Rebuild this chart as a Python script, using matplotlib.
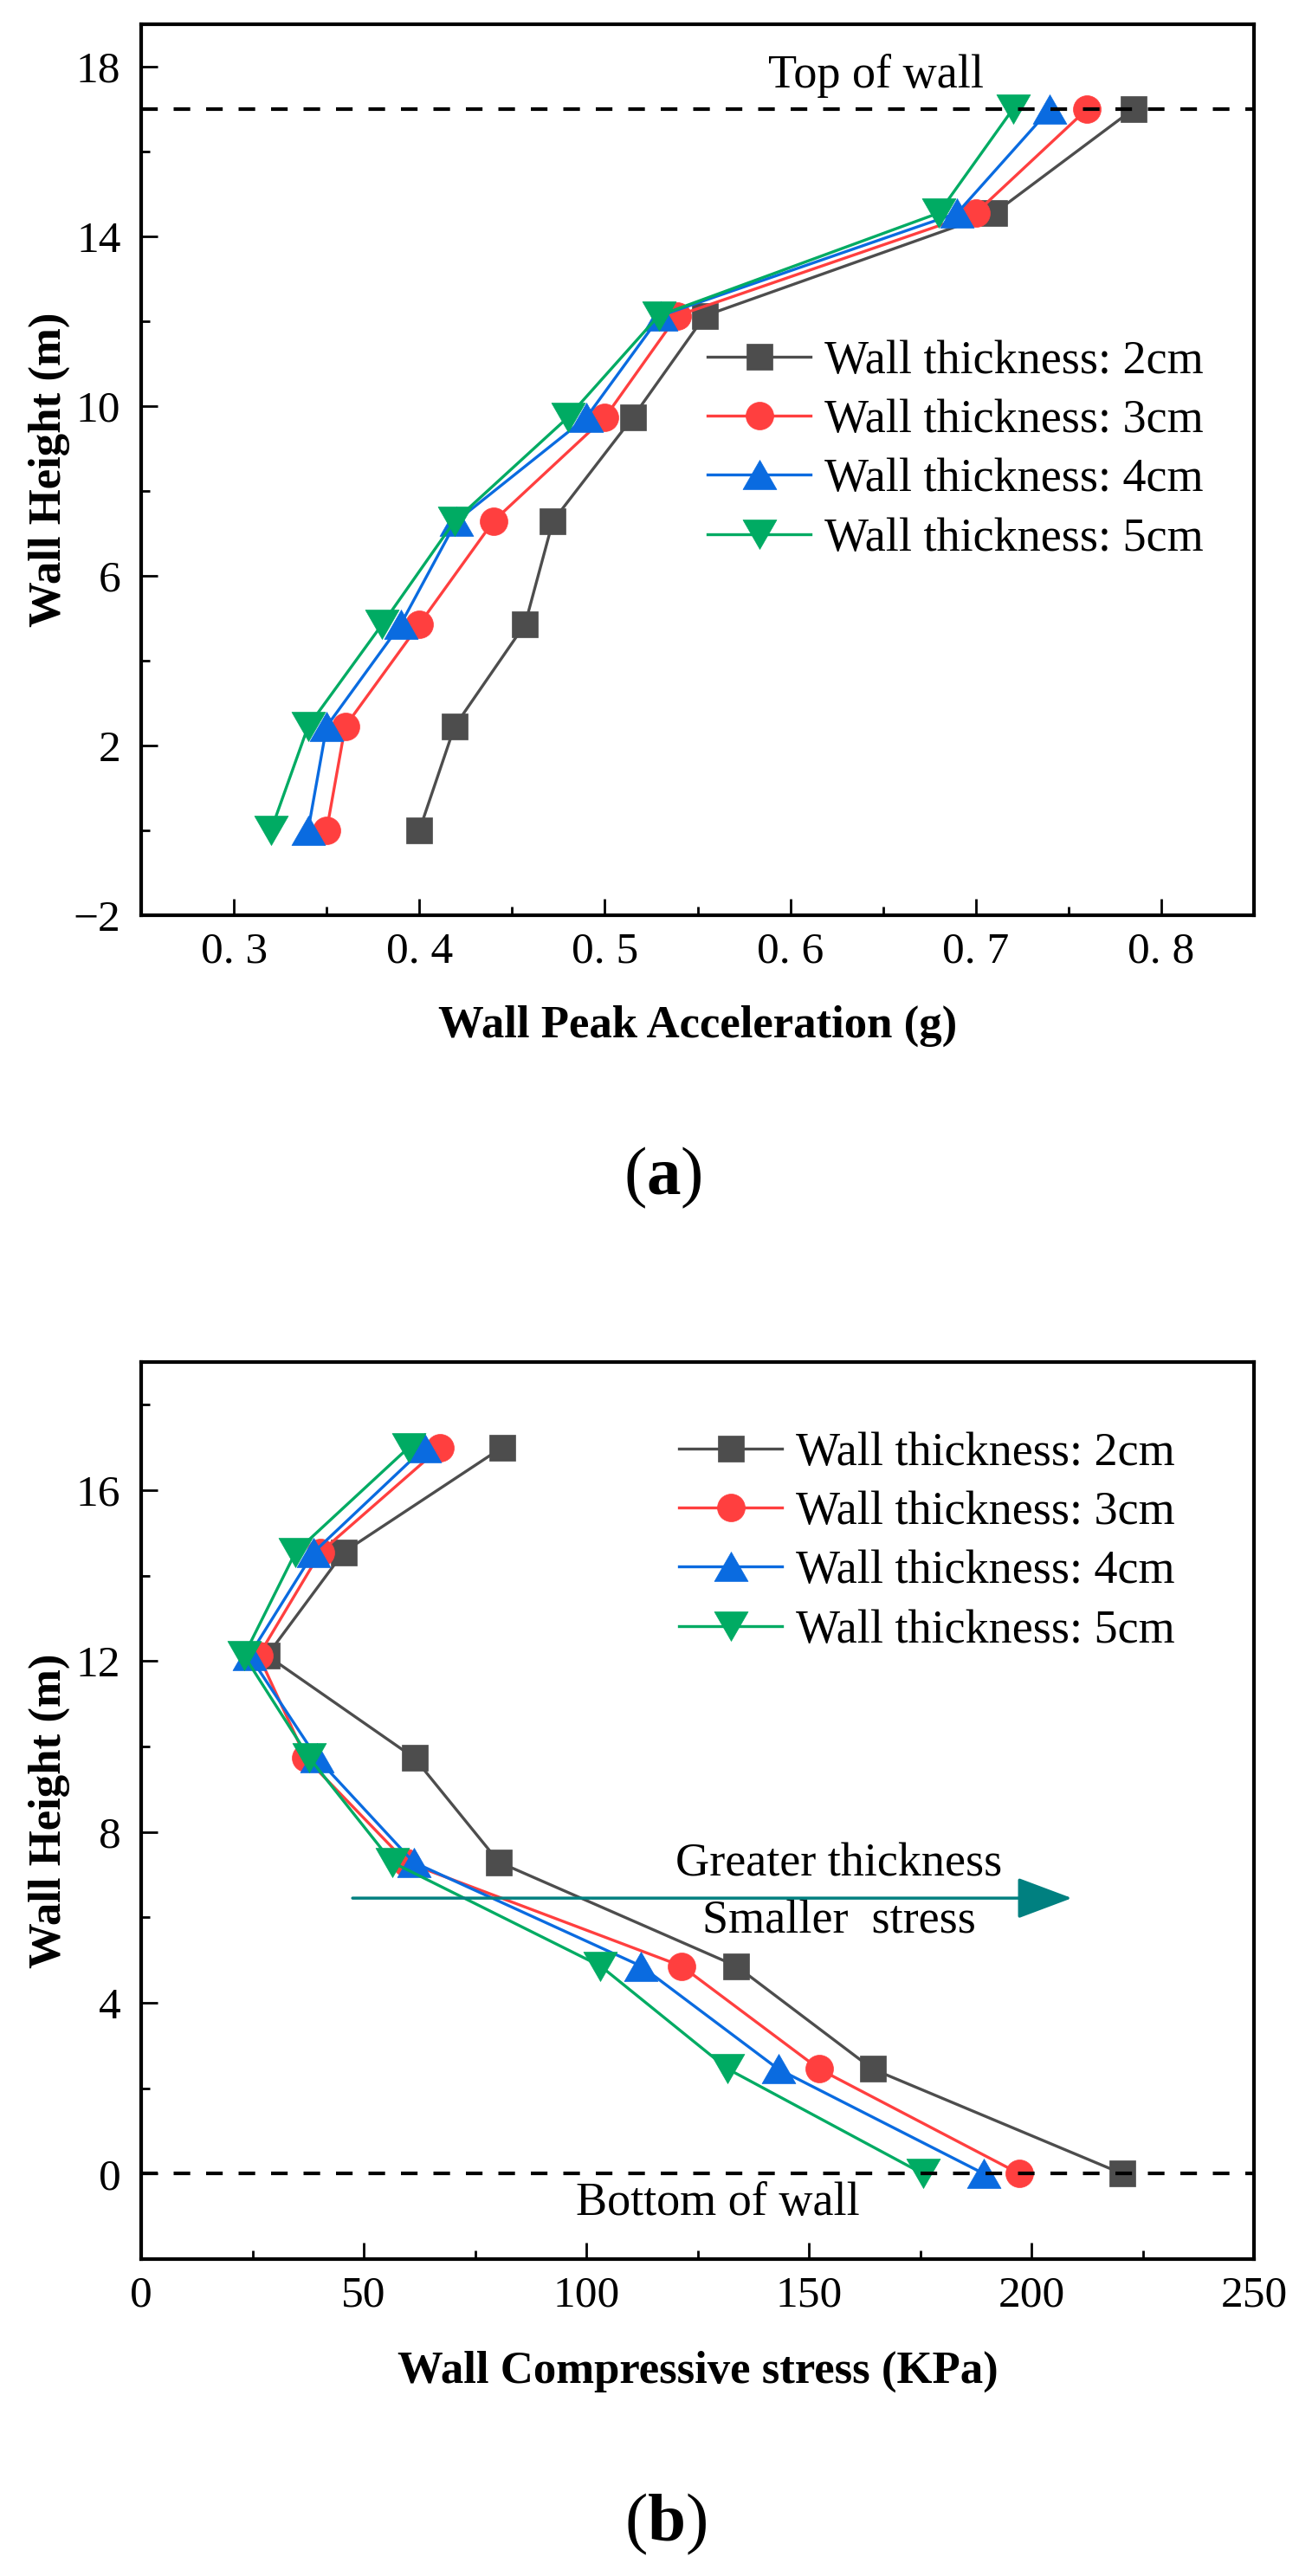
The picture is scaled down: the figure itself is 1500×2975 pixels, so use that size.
import matplotlib
matplotlib.use('Agg')
import matplotlib.pyplot as plt
from matplotlib.ticker import MultipleLocator, FixedLocator, FixedFormatter

plt.rcParams['font.family'] = ['Liberation Serif', 'DejaVu Serif']
plt.rcParams['mathtext.fontset'] = 'custom'
plt.rcParams['mathtext.rm'] = 'Liberation Serif'
plt.rcParams['mathtext.bf'] = 'Liberation Serif:bold'

# ---------------- data ----------------
labels = ['Wall thickness: 2cm', 'Wall thickness: 3cm',
          'Wall thickness: 4cm', 'Wall thickness: 5cm']

height = [17, 14.55, 12.13, 9.73, 7.29, 4.86, 2.45, 0]

acc_2cm = [0.785, 0.710, 0.554, 0.515, 0.472, 0.457, 0.419, 0.400]
acc_3cm = [0.760, 0.700, 0.539, 0.500, 0.440, 0.400, 0.360, 0.350]
acc_4cm = [0.740, 0.690, 0.530, 0.490, 0.420, 0.390, 0.350, 0.340]
acc_5cm = [0.720, 0.680, 0.529, 0.480, 0.419, 0.380, 0.340, 0.320]

stress_2cm = [81.1, 45.5, 28.3, 61.4, 80.4, 133.7, 164.3, 220.4]
stress_3cm = [67.2, 40.3, 26.4, 37.0, 59.6, 121.4, 152.3, 197.3]
stress_4cm = [63.7, 38.8, 24.3, 39.5, 61.2, 112.3, 143.1, 189.3]
stress_5cm = [60.1, 34.7, 23.1, 37.8, 56.4, 103.2, 131.8, 175.6]

xticks_a = [0.3, 0.4, 0.5, 0.6, 0.7, 0.8]
xticklabels_a = ['0. 3', '0. 4', '0. 5', '0. 6', '0. 7', '0. 8']
yticks_a = [-2, 2, 6, 10, 14, 18]
xticks_b = [0, 50, 100, 150, 200, 250]
yticks_b = [0, 4, 8, 12, 16]

# ---------------- style ----------------
colors = ['#4D4D4D', '#FF3F3F', '#0A6BE0', '#00AB63']
tri_up = [(0, 0.87), (-1, -0.87), (1, -0.87), (0, 0.87)]
tri_dn = [(0, -0.87), (-1, 0.87), (1, 0.87), (0, -0.87)]
markers = ['s', 'o', tri_up, tri_dn]
msizes = [21, 23, 28, 28]

W, H = 1500, 2975
fig = plt.figure(figsize=(15, 29.75), dpi=100)


def rect(l, t, r, b):
    return [l / W, 1 - b / H, (r - l) / W, (b - t) / H]


axA = fig.add_axes(rect(163, 28, 1448, 1057))
axB = fig.add_axes(rect(163, 1573, 1448, 2609))


def style(ax):
    for s in ax.spines.values():
        s.set_linewidth(3)
    ax.tick_params(which='both', direction='in', top=False, right=False,
                   labelsize=37, width=2)
    ax.tick_params(which='major', length=14)
    ax.tick_params(which='minor', length=7)
    ax.tick_params(axis='x', which='both', pad=14)
    ax.tick_params(axis='y', which='both', pad=17)


def plot_series(ax, xs_list):
    for xs, c, m, ms, lab in zip(xs_list, colors, markers, msizes, labels):
        ax.plot(xs, height, color=c, lw=2.4, marker=m, ms=ms,
                mfc=c, mec=c, mew=0.5, label=lab)


legend_kw = dict(bbox_transform=fig.transFigure, frameon=False, fontsize=39,
                 borderpad=0, borderaxespad=0, handlelength=2.2,
                 handletextpad=0.3, labelspacing=0.33, loc='upper left')

# ---------------- panel (a) ----------------
style(axA)
plot_series(axA, [acc_2cm, acc_3cm, acc_4cm, acc_5cm])
axA.axhline(17, color='black', lw=3, dashes=(4.6, 4.4), zorder=10)
axA.set_xlim(0.25, 0.85)
axA.set_ylim(-2, 19)
axA.xaxis.set_major_locator(FixedLocator(xticks_a))
axA.xaxis.set_major_formatter(FixedFormatter(xticklabels_a))
axA.xaxis.set_minor_locator(MultipleLocator(0.05))
axA.yaxis.set_major_locator(FixedLocator(yticks_a))
axA.yaxis.set_minor_locator(MultipleLocator(2))
axA.text(0.646, 17.78, 'Top of wall', fontsize=39, ha='center', va='center')
axA.set_xlabel('Wall Peak Acceleration (g)', fontsize=38, fontweight='bold')
axA.set_ylabel('Wall Height (m)', fontsize=38, fontweight='bold')
axA.xaxis.set_label_coords(0.5, -0.101)
axA.yaxis.set_label_coords(-0.064, 0.5)
axA.legend(bbox_to_anchor=(817 / W, 1 - 392 / H), **legend_kw)

# ---------------- panel (b) ----------------
style(axB)
plot_series(axB, [stress_2cm, stress_3cm, stress_4cm, stress_5cm])
axB.axhline(0, color='black', lw=3, dashes=(4.6, 4.4), zorder=10)
axB.set_xlim(0, 250)
axB.set_ylim(-2, 19)
axB.xaxis.set_major_locator(FixedLocator(xticks_b))
axB.xaxis.set_minor_locator(MultipleLocator(25))
axB.yaxis.set_major_locator(FixedLocator(yticks_b))
axB.yaxis.set_minor_locator(MultipleLocator(2))
axB.text(129.6, -0.69, 'Bottom of wall', fontsize=39, ha='center', va='center')
axB.text(156.8, 7.24, 'Greater thickness', fontsize=39, ha='center', va='center')
axB.text(156.8, 5.90, 'Smaller  stress', fontsize=39, ha='center', va='center')
axB.annotate('', xy=(209.1, 6.45), xytext=(47.5, 6.45),
             arrowprops=dict(arrowstyle='-|>,head_length=0.4,head_width=0.15',
                             mutation_scale=100, color='#008080', lw=2.5,
                             shrinkA=0, shrinkB=0))
axB.set_xlabel('Wall Compressive stress (KPa)', fontsize=38, fontweight='bold')
axB.set_ylabel('Wall Height (m)', fontsize=38, fontweight='bold')
axB.xaxis.set_label_coords(0.5, -0.1023)
axB.yaxis.set_label_coords(-0.064, 0.5)
axB.legend(bbox_to_anchor=(784 / W, 1 - 1653 / H), **legend_kw)

# ---------------- panel captions ----------------
fig.text(765 / W, 1 - 1360 / H, r'($\mathbf{a}$)', fontsize=57,
         ha='center', va='center')
fig.text(769 / W, 1 - 2915 / H, r'($\mathbf{b}$)', fontsize=57,
         ha='center', va='center')

fig.savefig('out.png', dpi=100)
